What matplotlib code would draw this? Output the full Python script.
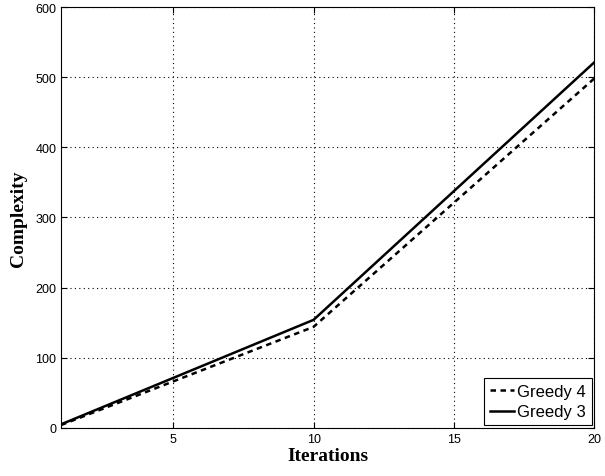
import matplotlib.pyplot as plt

iterations = [1, 10, 20]
greedy4 = [4, 144, 498]
greedy3 = [5, 154, 521]

fig = plt.figure(figsize=(6.05, 4.77), dpi=100)
ax = fig.add_axes([0.101, 0.101, 0.881, 0.882])

ax.plot(iterations, greedy4, color='k', linestyle=(0, (2.2, 1.8)), lw=1.8, label='Greedy 4')
ax.plot(iterations, greedy3, 'k-', lw=1.8, label='Greedy 3')

ax.set_xlim(1, 20)
ax.set_ylim(0, 600)
ax.set_xticks([5, 10, 15, 20])
ax.set_yticks(range(0, 601, 100))
ax.grid(True, color='k', linestyle=(0, (1, 3)), linewidth=0.8)
ax.tick_params(direction='in', labelsize=9, top=True, right=True, length=4)
for lab in ax.get_xticklabels() + ax.get_yticklabels():
    lab.set_family('Liberation Sans')

ax.set_xlabel('Iterations', family='Liberation Serif', fontweight='bold', fontsize=14, labelpad=2)
ax.set_ylabel('Complexity', family='Liberation Serif', fontweight='bold', fontsize=14, labelpad=6)

leg = ax.legend(loc='lower right', prop={'family': 'Liberation Sans', 'size': 12},
                fancybox=False, framealpha=1, edgecolor='k', borderaxespad=0.15,
                handlelength=1.45, handletextpad=0.2, borderpad=0.35, labelspacing=0.35)
leg.get_frame().set_linewidth(0.8)

fig.savefig('out.png', dpi=100)
